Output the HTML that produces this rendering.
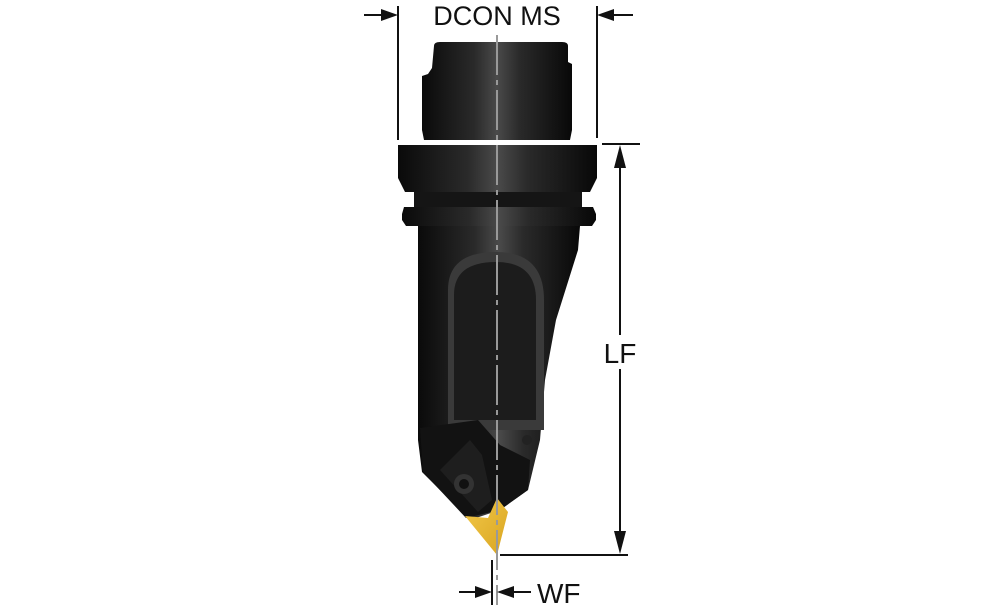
<!DOCTYPE html>
<html><head><style>
html,body{margin:0;padding:0;background:#fff;}
svg{display:block;}
text{font-family:"Liberation Sans",sans-serif;fill:#111;}
</style></head><body>
<svg width="1000" height="611" viewBox="0 0 1000 611" xmlns="http://www.w3.org/2000/svg">
<defs>
<linearGradient id="g" x1="0" x2="1" y1="0" y2="0">
<stop offset="0" stop-color="#0a0a0a"/><stop offset="0.35" stop-color="#2a2a2a"/><stop offset="0.5" stop-color="#4a4a4a"/><stop offset="0.65" stop-color="#2a2a2a"/><stop offset="1" stop-color="#080808"/>
</linearGradient>
<linearGradient id="y" x1="0" x2="1" y1="0" y2="1">
<stop offset="0" stop-color="#f2c84a"/><stop offset="1" stop-color="#d9a520"/>
</linearGradient>
</defs>
<path d="M434 46 Q434 42 440 42 L562 42 Q568 42 568 46 L568 62 L572 64 L572 130 L570 140 L424 140 L422 130 L422 76 L428 74 L432 68 Z" fill="url(#g)"/>
<path d="M398 145 L597 145 L597 178 L590 192 L405 192 L398 178 Z" fill="url(#g)"/>
<rect x="414" y="192" width="168" height="15" fill="#151515"/>
<path d="M404 207 L593 207 L596 214 L596 220 L592 226 L406 226 L402 220 L402 214 Z" fill="url(#g)"/>
<path d="M418 226 L580 226 L578 250 L556 320 L545 380 L540 440 L528 490 L500 510 L470 520 L422 472 L418 440 Z" fill="url(#g)"/>
<path d="M448 290 Q448 252 496 252 Q544 252 544 300 L544 430 L448 430 Z" fill="#3a3a3a"/>
<path d="M454 295 Q454 262 496 262 Q536 262 536 300 L536 420 L454 420 Z" fill="#1c1c1c"/>
<path d="M420 428 L478 420 L500 445 L530 460 L528 490 L500 510 L466 518 L423 472 Z" fill="#121212"/>
<path d="M440 470 L470 440 L482 455 L492 500 L478 512 Z" fill="#1e1e1e"/>
<circle cx="464" cy="484" r="10" fill="#333"/>
<circle cx="464" cy="484" r="5" fill="#111"/>
<circle cx="527" cy="440" r="5" fill="#222"/>
<path d="M465 516 L488 518 L497 498 L508 512 L497 555 Z" fill="url(#y)"/>
<line x1="497" y1="35" x2="497" y2="605" stroke="#999" stroke-width="2" stroke-dasharray="40,5,5,5"/>
<line x1="398" y1="6" x2="398" y2="140" stroke="#111" stroke-width="2"/>
<line x1="597" y1="6" x2="597" y2="138" stroke="#111" stroke-width="2"/>
<line x1="364" y1="15" x2="390" y2="15" stroke="#111" stroke-width="2"/>
<path d="M398 15 L381 9 L381 21 Z" fill="#111"/>
<line x1="605" y1="15" x2="633" y2="15" stroke="#111" stroke-width="2"/>
<path d="M597 15 L614 9 L614 21 Z" fill="#111"/>
<text x="497" y="25" font-size="27" text-anchor="middle">DCON MS</text>
<line x1="602" y1="144" x2="640" y2="144" stroke="#111" stroke-width="2"/>
<line x1="500" y1="555" x2="628" y2="555" stroke="#111" stroke-width="2"/>
<line x1="620" y1="150" x2="620" y2="550" stroke="#111" stroke-width="2"/>
<path d="M620 145 L614 168 L626 168 Z" fill="#111"/>
<path d="M620 554 L614 531 L626 531 Z" fill="#111"/>
<rect x="600" y="335" width="40" height="34" fill="#fff"/>
<text x="620" y="363" font-size="28" text-anchor="middle">LF</text>
<line x1="492" y1="560" x2="492" y2="605" stroke="#111" stroke-width="2"/>
<line x1="459" y1="592" x2="486" y2="592" stroke="#111" stroke-width="2"/>
<path d="M492 592 L475 586 L475 598 Z" fill="#111"/>
<line x1="503" y1="592" x2="531" y2="592" stroke="#111" stroke-width="2"/>
<path d="M497 592 L514 586 L514 598 Z" fill="#111"/>
<text x="537" y="603" font-size="28">WF</text>
</svg>
</body></html>
